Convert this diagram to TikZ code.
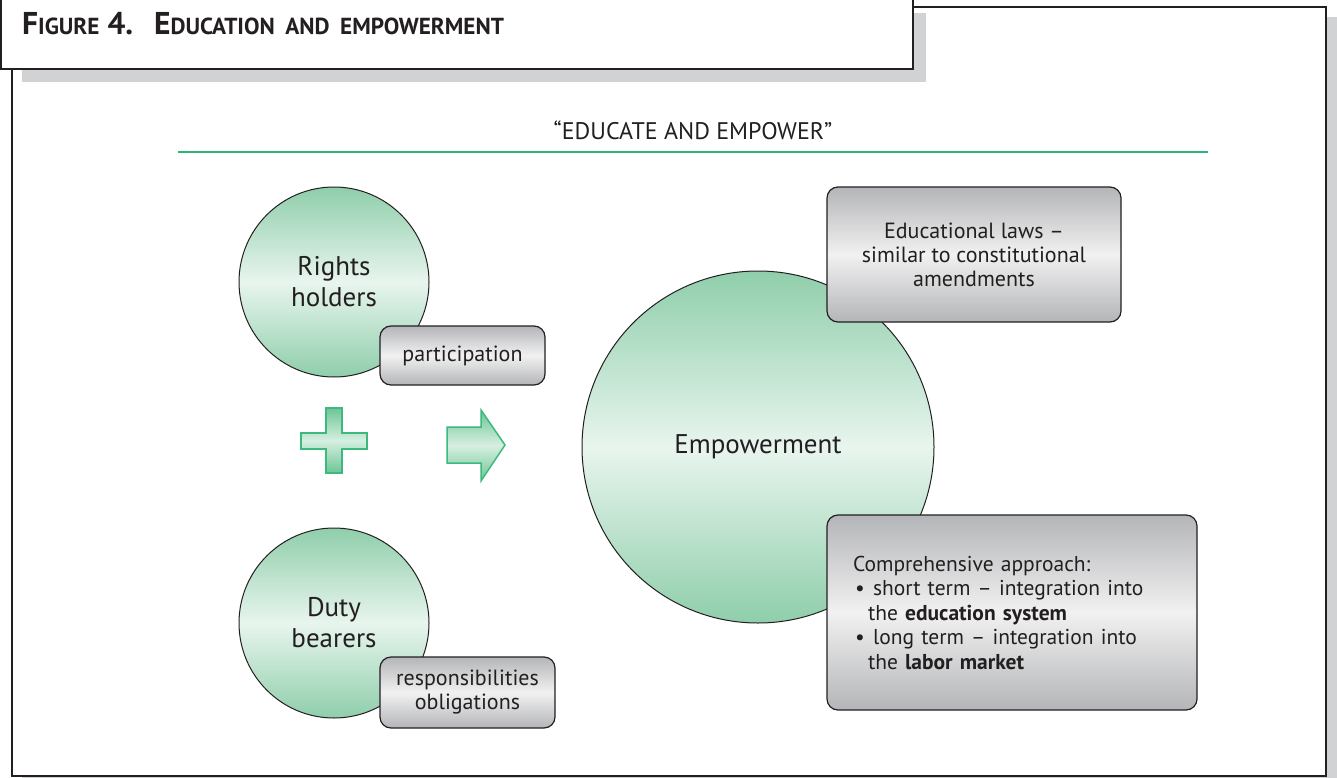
\documentclass[tikz,border=0pt]{standalone}
\usepackage{fontspec}
\setmainfont{PT Sans}
\definecolor{inkgray}{HTML}{231F20}
\definecolor{shadowgray}{HTML}{D1D2D4}
\definecolor{rulegreen}{HTML}{2DB37C}
\definecolor{leafdark}{HTML}{8FCEAB}
\definecolor{leaflight}{HTML}{E8F5EE}
\definecolor{boxdark}{HTML}{B4B5B8}
\definecolor{boxlight}{HTML}{F1F1F1}
\definecolor{signedge}{HTML}{3DB97E}
\definecolor{signdark}{HTML}{6CC696}
\definecolor{signlight}{HTML}{D6EFE1}
\newcommand{\smallcap}[1]{{\fontsize{23.2}{23}\selectfont #1}}
\newcommand{\dotitem}{\makebox[20pt][l]{\hspace{2pt}\textbullet}}
\begin{document}
\begin{tikzpicture}[x=1pt,y=-1pt,
  bubble/.style={circle,draw=inkgray,line width=1pt,top color=leafdark,bottom color=leafdark,middle color=leaflight,align=center,inner sep=0pt,text=inkgray,font=\fontsize{27}{31}\selectfont},
  notebox/.style={draw=inkgray,line width=1.2pt,rounded corners=11pt,top color=boxdark,bottom color=boxdark,middle color=boxlight,align=center,inner sep=0pt,text=inkgray,font=\fontsize{22}{24}\selectfont},
  sign/.style={draw=signedge,line width=1.5pt,top color=signdark,bottom color=signdark,middle color=signlight}]
\useasboundingbox (0.000000,0.000000) rectangle (1337.000000,778.000000);
% Drawing frame
\fill[shadowgray] (22.000000,17.000000) rectangle (1340.000000,790.000000);
\filldraw[fill=white,draw=inkgray,line width=2pt] (12.000000,7.000000) rectangle (1326.000000,776.000000);
% Frame done; drawing caption box
\fill[shadowgray] (22.000000,13.000000) rectangle (926.000000,82.000000);
\filldraw[fill=white,draw=inkgray,line width=2pt] (1.000000,-5.000000) rectangle (913.000000,69.000000);
\node[anchor=base west,inner sep=0pt,text=inkgray,font=\fontsize{31.5}{31}\selectfont\bfseries] (caption) at (22.000000,35.000000) {F\smallcap{IGURE} 4.\hspace{21pt}E\smallcap{DUCATION}\hspace{10.5pt}\smallcap{AND}\hspace{10.5pt}\smallcap{EMPOWERMENT}};
% Heading and rule
\node[text=inkgray,font=\fontsize{24}{24}\selectfont] (motto) at (693.000000,130.000000) {“EDUCATE AND EMPOWER”};
\draw[rulegreen,line width=2.5pt] (178.000000,152.000000) -- (1208.000000,152.000000);
% Circles
\node[bubble,minimum size=190pt] (rights) at (334.000000,282.000000) {Rights\\holders};
\node[bubble,minimum size=190pt] (duty) at (334.000000,623.000000) {Duty\\bearers};
\node[bubble,minimum size=352pt] (empower) at (758.000000,447.000000) {Empowerment};
% Plus and arrow signs
\shadedraw[sign] (301.000000,433.000000) -- (326.000000,433.000000) -- (326.000000,408.000000) -- (342.000000,408.000000) -- (342.000000,433.000000) -- (367.000000,433.000000) -- (367.000000,449.000000) -- (342.000000,449.000000) -- (342.000000,473.000000) -- (326.000000,473.000000) -- (326.000000,449.000000) -- (301.000000,449.000000) -- cycle;
\shadedraw[sign] (447.000000,427.000000) -- (481.000000,427.000000) -- (481.000000,410.000000) -- (505.000000,445.000000) -- (481.000000,481.000000) -- (481.000000,463.000000) -- (447.000000,463.000000) -- cycle;
% Done with signs; drawing boxes
\node[notebox,minimum width=165pt,minimum height=59pt] (part) at (462.500000,355.500000) {participation};
\node[notebox,minimum width=175pt,minimum height=71pt] (resp) at (467.500000,692.500000) {responsibilities\\obligations};
\node[notebox,minimum width=294pt,minimum height=135pt] (laws) at (974.000000,254.500000) {Educational laws –\\similar to constitutional\\amendments};
\node[notebox,minimum height=195pt,text width=318pt,inner xsep=26pt,align=left,font=\fontsize{21.5}{24.5}\selectfont] (approach) at (1012.000000,612.500000) {Comprehensive approach:\\\dotitem short term – integration into\\\hspace*{15pt}the \textbf{education system}\\\dotitem long term – integration into\\\hspace*{15pt}the \textbf{labor market}};
% Done with boxes
\end{tikzpicture}
\end{document}
